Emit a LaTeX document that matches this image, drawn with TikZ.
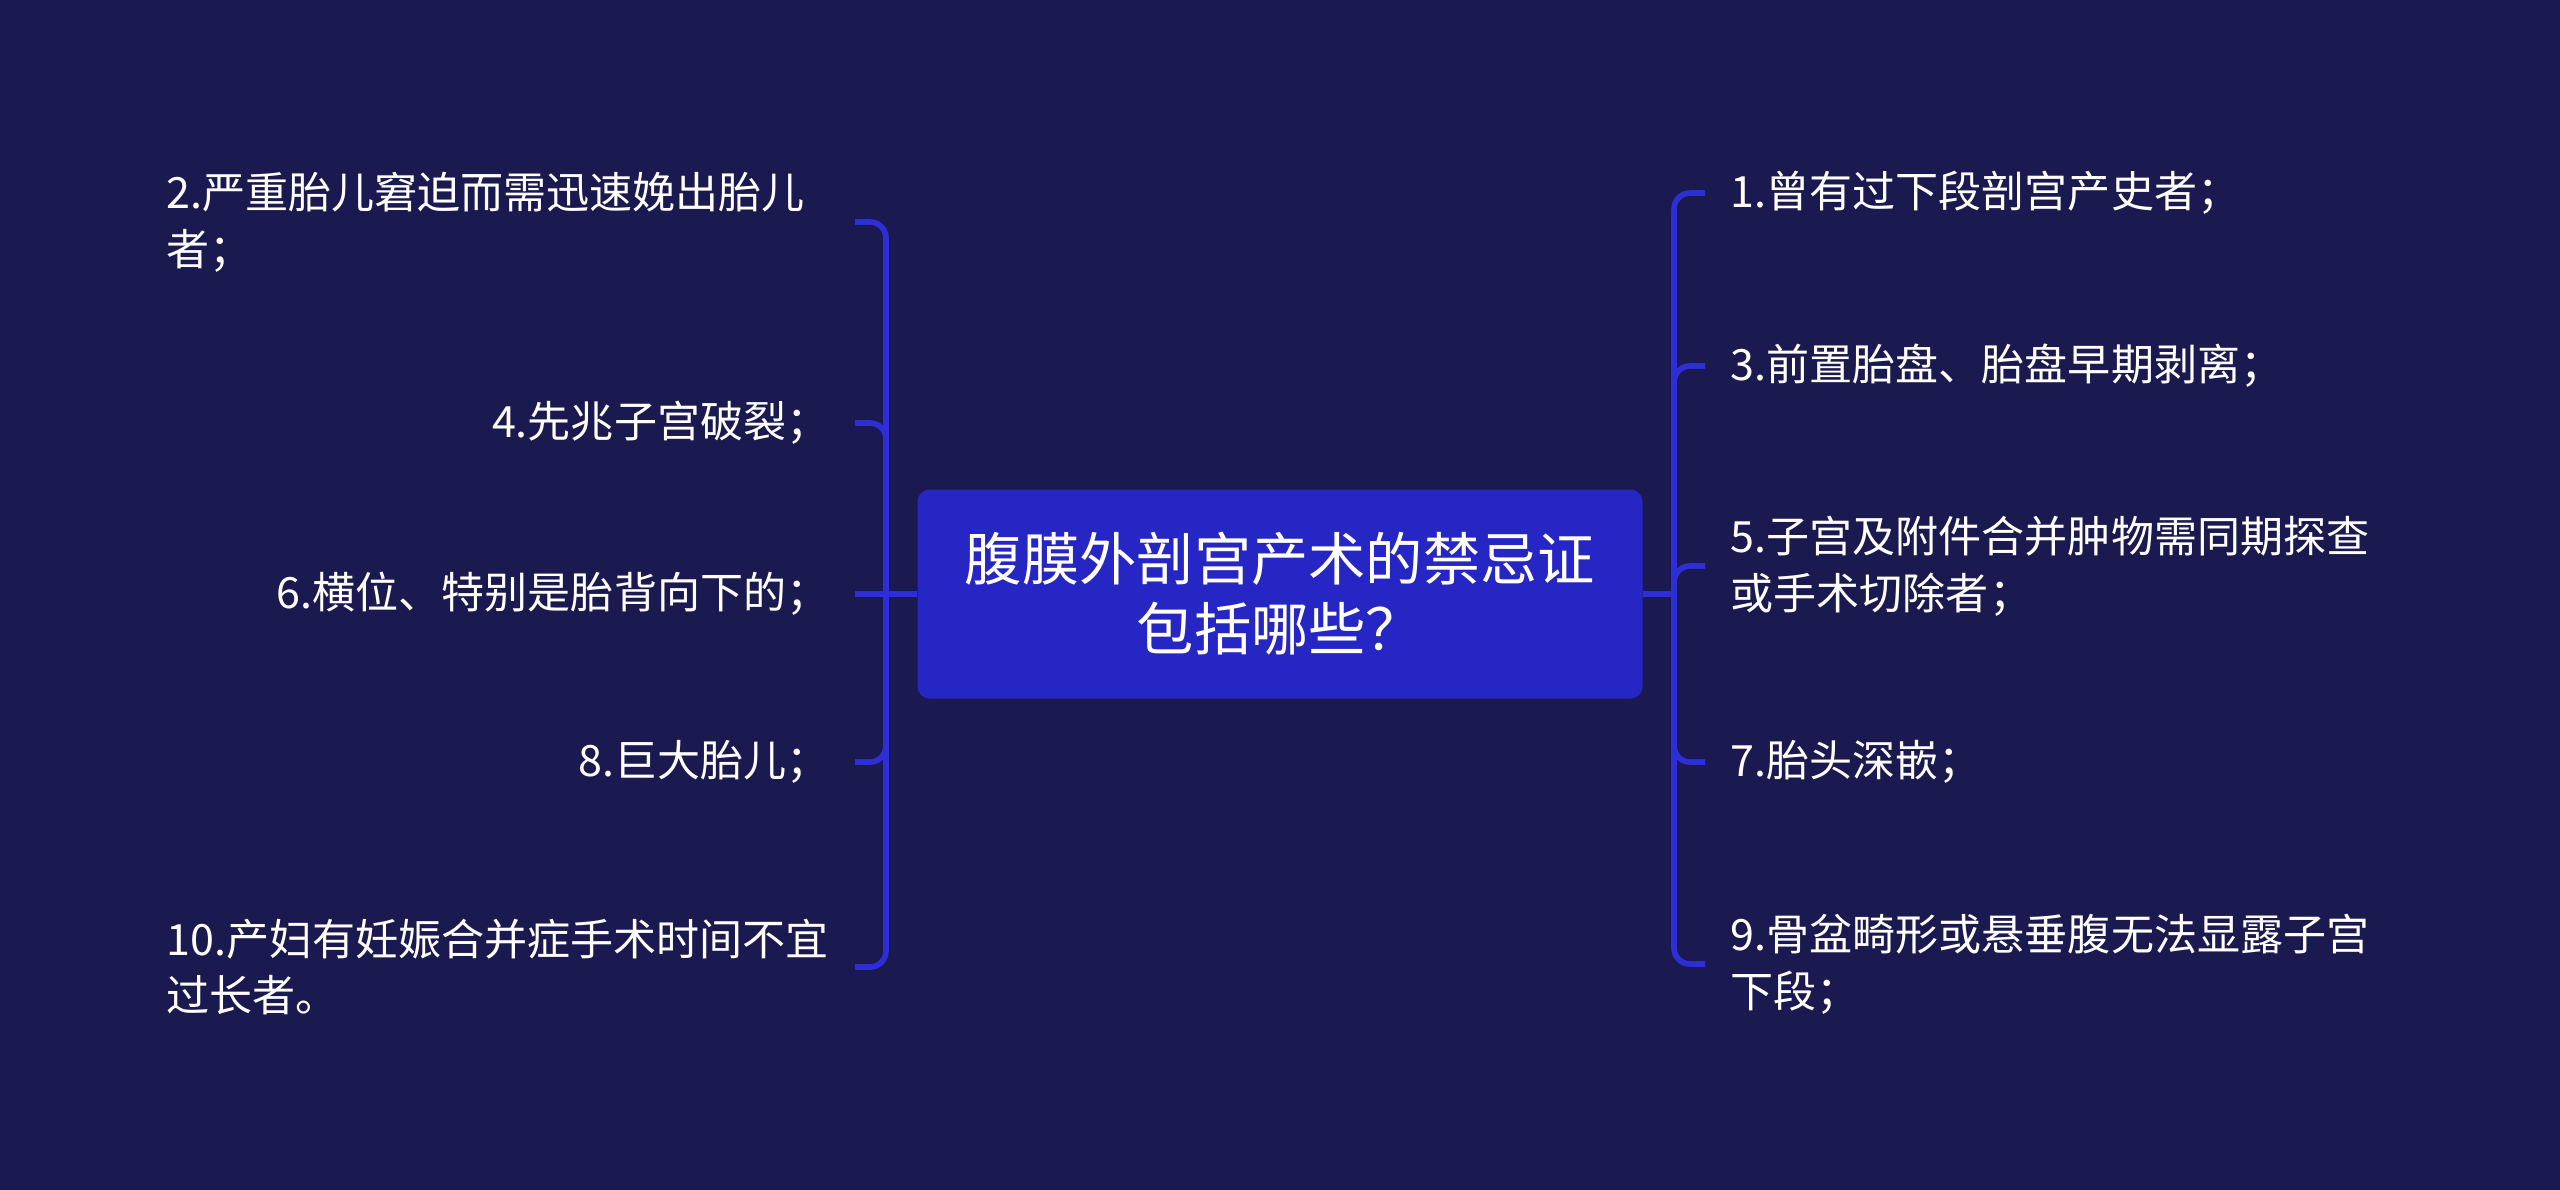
\documentclass[tikz,border=0pt]{standalone}
\usepackage{fontspec}
\setmainfont{Noto Sans CJK SC}
\usetikzlibrary{positioning}
\definecolor{bgnavy}{HTML}{1B1A50}
\definecolor{rootblue}{HTML}{2626C4}
\definecolor{linkblue}{HTML}{2E2ED6}
\tikzset{
    rootnode/.style = {rectangle, rounded corners=0.12cm, fill=rootblue, text=white, align=center, minimum width=7.25cm, minimum height=2.09cm, font=\fontsize{16.3}{19.9}\selectfont},
    leafl/.style = {anchor=east, text=white, align=left, inner xsep=0.25cm, inner ysep=0pt, font=\fontsize{12.25}{16.2}\selectfont},
    leafr/.style = {anchor=west, text=white, align=left, inner xsep=0.25cm, inner ysep=0pt, font=\fontsize{12.25}{16.2}\selectfont},
    edgeb/.style = {line width=1.6pt, draw=linkblue, rounded corners=0.16cm},
}

\begin{document}
\begin{tikzpicture}
  \useasboundingbox (0,0) rectangle (25.6,-11.89);
  \fill[bgnavy] (-0.05,0.05) rectangle (25.65,-11.94);

  \node[rootnode] (core) at (12.80,-5.94) {腹膜外剖宫产术的禁忌证\\包括哪些？};
  \coordinate (jl) at (8.86,-5.94);
  \coordinate (jr) at (16.74,-5.94);

  % left branch
  \node[leafl, text width=6.63cm] (t2)  at (8.55,-2.22) {2.严重胎儿窘迫而需迅速娩出胎儿\\者；};
  \node[leafl] (t4)  at (8.55,-4.23) {4.先兆子宫破裂；};
  \node[leafl] (t6)  at (8.55,-5.94) {6.横位、特别是胎背向下的；};
  \node[leafl] (t8)  at (8.55,-7.62) {8.巨大胎儿；};
  \node[leafl, text width=6.63cm] (t10) at (8.55,-9.67) {10.产妇有妊娠合并症手术时间不宜\\过长者。};

  % right branch
  \node[leafr] (t1) at (17.05,-1.93) {1.曾有过下段剖宫产史者；};
  \node[leafr] (t3) at (17.05,-3.66) {3.前置胎盘、胎盘早期剥离；};
  \node[leafr] (t5) at (17.05,-5.66) {5.子宫及附件合并肿物需同期探查\\或手术切除者；};
  \node[leafr] (t7) at (17.05,-7.62) {7.胎头深嵌；};
  \node[leafr] (t9) at (17.05,-9.64) {9.骨盆畸形或悬垂腹无法显露子宫\\下段；};

  \draw[edgeb] (core.west) -- (jl);
  \draw[edgeb] (core.east) -- (jr);
  \draw[edgeb] (jl) |- (t2.east);
  \draw[edgeb] (jl) |- (t4.east);
  \draw[edgeb] (jl) -- (t6.east);
  \draw[edgeb] (jl) |- (t8.east);
  \draw[edgeb] (jl) |- (t10.east);
  \draw[edgeb] (jr) |- (t1.west);
  \draw[edgeb] (jr) |- (t3.west);
  \draw[edgeb] (jr) |- (t5.west);
  \draw[edgeb] (jr) |- (t7.west);
  \draw[edgeb] (jr) |- (t9.west);
\end{tikzpicture}
\end{document}
